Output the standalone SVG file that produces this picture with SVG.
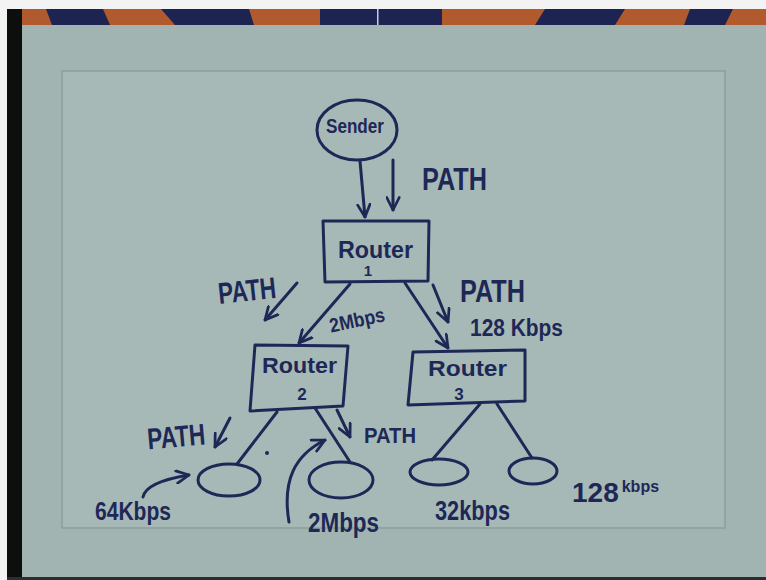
<svg xmlns="http://www.w3.org/2000/svg" width="766" height="580" viewBox="0 0 766 580">
<defs>
<style>
.ink{fill:none;stroke:#1e2857;stroke-width:3;stroke-linecap:round;stroke-linejoin:round}
.t{font-family:"Liberation Sans","DejaVu Sans",sans-serif;font-weight:bold;fill:#1e2857}
</style>
<marker id="ah" viewBox="0 0 12 12" refX="11" refY="6" markerWidth="15" markerHeight="15" markerUnits="userSpaceOnUse" orient="auto">
<path d="M1,1 L11,6 L1,11" fill="none" stroke="#1e2857" stroke-width="2.2" stroke-linecap="round" stroke-linejoin="round"/>
</marker>
</defs>
<!-- photo frame -->
<rect x="0" y="0" width="766" height="580" fill="#f2f3f2"/>
<rect x="7" y="9" width="759" height="571" fill="#a2b4b1"/>
<g id="stripe">
<rect x="22" y="9" width="744" height="16" fill="#b05a2e"/>
<polygon points="46,9 103,9 110,25 52,25" fill="#1d2452"/>
<polygon points="161,9 249,9 254,25 175,25" fill="#1d2452"/>
<rect x="320" y="9" width="122" height="16" fill="#1d2452"/>
<rect x="377" y="9" width="1.5" height="16" fill="#c8ccd6"/>
<polygon points="545,9 625,9 615,25 535,25" fill="#1d2452"/>
<polygon points="690,9 733,9 725,25 684,25" fill="#1d2452"/>
</g>
<rect x="7" y="9" width="15" height="571" fill="#0d0f0c"/>
<rect x="7" y="577" width="759" height="3" fill="#2a2f2e"/>
<rect x="62" y="71" width="663" height="457" fill="#a7b9b6" stroke="#8c9e9b" stroke-width="1.5"/>

<!-- nodes -->
<g id="sender">
<ellipse class="ink" cx="357" cy="130" rx="40" ry="30"/>
<text class="t" x="326" y="133" font-size="20" textLength="58" lengthAdjust="spacingAndGlyphs">Sender</text>
</g>
<g id="router1">
<polygon class="ink" points="323,221 429,221 428,281 325,282"/>
<text class="t" x="338" y="258" font-size="24" textLength="75" lengthAdjust="spacingAndGlyphs" font-weight="normal">Router</text>
<text class="t" x="368" y="276" font-size="15" text-anchor="middle">1</text>
</g>
<g id="router2">
<polygon class="ink" points="255,345 348,346 343,406 250,411"/>
<text class="t" x="262" y="373" font-size="22" textLength="75" lengthAdjust="spacingAndGlyphs" font-weight="normal">Router</text>
<text class="t" x="302" y="400" font-size="17" text-anchor="middle">2</text>
</g>
<g id="router3">
<polygon class="ink" points="413,352 525,350 525,401 408,405"/>
<text class="t" x="428" y="376" font-size="22" textLength="79" lengthAdjust="spacingAndGlyphs" font-weight="normal">Router</text>
<text class="t" x="459" y="400" font-size="17" text-anchor="middle">3</text>
</g>
<g id="receiver1">
<ellipse class="ink" cx="229" cy="480" rx="31" ry="16"/>
</g>
<g id="receiver2">
<ellipse class="ink" cx="341" cy="480" rx="32" ry="18"/>
</g>
<g id="receiver3">
<ellipse class="ink" cx="439" cy="472" rx="29" ry="13"/>
</g>
<g id="receiver4">
<ellipse class="ink" cx="533" cy="471" rx="24" ry="13"/>
</g>

<!-- connectors -->
<g id="connectors">
<path class="ink" d="M360,161 L365,217" marker-end="url(#ah)"/>
<path class="ink" d="M393,160 L393,210" marker-end="url(#ah)"/>
<path class="ink" d="M297,283 L265,320" marker-end="url(#ah)"/>
<path class="ink" d="M350,284 L299,343" marker-end="url(#ah)"/>
<path class="ink" d="M405,283 L448,348" marker-end="url(#ah)"/>
<path class="ink" d="M433,285 L448,322" marker-end="url(#ah)"/>
<path class="ink" d="M277,412 L237,464"/>
<path class="ink" d="M315,408 L350,462"/>
<path class="ink" d="M230,418 L215,447" marker-end="url(#ah)"/>
<path class="ink" d="M337,410 L350,437" marker-end="url(#ah)"/>
<path class="ink" d="M480,404 L432,460"/>
<path class="ink" d="M497,404 L532,458"/>
<path class="ink" d="M143,497 Q146,482 189,475" marker-end="url(#ah)"/>
<path class="ink" d="M289,522 C282,480 295,455 325,440" marker-end="url(#ah)"/>
<circle cx="267" cy="453" r="2" fill="#1e2857"/>
</g>

<!-- labels -->
<g id="labels">
<text class="t" x="422" y="190" font-size="32" textLength="65" lengthAdjust="spacingAndGlyphs">PATH</text>
<text class="t" x="218" y="301" font-size="30" textLength="58" lengthAdjust="spacingAndGlyphs" transform="rotate(-6 247 290)">PATH</text>
<text class="t" x="329" y="327" font-size="20" textLength="56" lengthAdjust="spacingAndGlyphs" transform="rotate(-12 357 320)">2Mbps</text>
<text class="t" x="460" y="302" font-size="32" textLength="65" lengthAdjust="spacingAndGlyphs">PATH</text>
<text class="t" x="470" y="336" font-size="23" textLength="93" lengthAdjust="spacingAndGlyphs">128 Kbps</text>
<text class="t" x="147" y="447" font-size="30" textLength="58" lengthAdjust="spacingAndGlyphs" transform="rotate(-5 176 435)">PATH</text>
<text class="t" x="364" y="443" font-size="22" textLength="52" lengthAdjust="spacingAndGlyphs">PATH</text>
<text class="t" x="95" y="520" font-size="25" textLength="76" lengthAdjust="spacingAndGlyphs">64Kbps</text>
<text class="t" x="308" y="532" font-size="27" textLength="71" lengthAdjust="spacingAndGlyphs">2Mbps</text>
<text class="t" x="435" y="520" font-size="27" textLength="75" lengthAdjust="spacingAndGlyphs">32kbps</text>
<text class="t" x="572" y="502"><tspan font-size="28">128</tspan><tspan font-size="16" dx="3" dy="-10">kbps</tspan></text>
</g>
</svg>
